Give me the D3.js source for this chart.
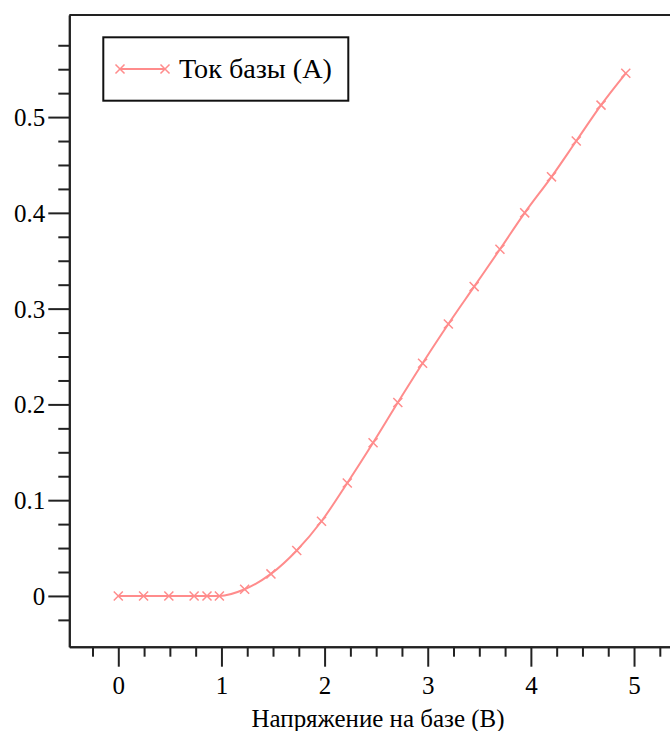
<!DOCTYPE html>
<html>
<head>
<meta charset="utf-8">
<script src="https://cdn.jsdelivr.net/npm/d3@7"></script>
<style>
  html, body { margin: 0; padding: 0; background: #fff; }
  svg { display: block; }
</style>
</head>
<body>
<script>
// ---- data ----
const voltage = [0, 0.245, 0.49, 0.735, 0.86, 0.98, 1.225, 1.48, 1.73, 1.97, 2.22, 2.47, 2.71, 2.95, 3.2, 3.45, 3.7, 3.94, 4.2, 4.44, 4.68, 4.92];
const current = [0, 0, 0, 0, 0, 0, 0.007, 0.023, 0.0475, 0.078, 0.118, 0.160, 0.202, 0.243, 0.284, 0.323, 0.362, 0.400, 0.4376, 0.475, 0.5125, 0.5457];
const xMajorTicks = [0, 1, 2, 3, 4, 5];
const yMajorTicks = [0, 0.1, 0.2, 0.3, 0.4, 0.5];
const yTickLabels = ["0", "0.1", "0.2", "0.3", "0.4", "0.5"];
const seriesName = "Ток базы (А)";
const xTitle = "Напряжение на базе (В)";

const W = 670, H = 731;
const FONT = '"Liberation Serif"';
const svg = d3.select("body").append("svg").attr("width", W).attr("height", H);

const x = d3.scaleLinear().domain([-0.475, 5.5]).range([69.3, 685.6]);
const y = d3.scaleLinear().domain([-0.053, 0.6066]).range([646.7, 15]);

const axisColor = "#222";
const tickFont = 25;

// fit a text's font size to a target width
function fitText(sel, target) {
  const w = sel.node().getComputedTextLength();
  const fs = parseFloat(sel.attr("font-size"));
  sel.attr("font-size", (fs * target / w).toFixed(2));
}

// frame: top line
svg.append("line").attr("x1", x.range()[0]).attr("x2", W + 20)
  .attr("y1", y.range()[1]).attr("y2", y.range()[1])
  .attr("stroke", axisColor).attr("stroke-width", 2);

// x axis
const xMinor = d3.range(-0.25, 5.5, 0.25).filter(v => Math.abs(v - Math.round(v)) > 1e-6);
const xAxis = d3.axisBottom(x).tickValues(xMajorTicks).tickSize(20).tickFormat(d3.format("d")).tickSizeOuter(0);
const xAxisMinor = d3.axisBottom(x).tickValues(xMinor).tickSize(10).tickFormat("").tickSizeOuter(0);
const gx = svg.append("g").attr("transform", `translate(0,${y.range()[0]})`).call(xAxis);
const gxm = svg.append("g").attr("transform", `translate(0,${y.range()[0]})`).call(xAxisMinor);
[gx, gxm].forEach(g => {
  g.attr("font-family", FONT);
  g.select(".domain").attr("stroke", axisColor).attr("stroke-width", 2);
  g.selectAll(".tick line").attr("stroke", axisColor).attr("stroke-width", 2);
});
gx.selectAll(".tick text").style("font-family", FONT).attr("font-size", tickFont)
  .attr("fill", "#000").attr("dy", null).attr("y", 47);

// y axis
const yMinor = d3.range(-0.025, 0.61, 0.025).filter(v => Math.abs(v * 10 - Math.round(v * 10)) > 1e-6);
const yAxis = d3.axisLeft(y).tickValues(yMajorTicks).tickSize(21).tickFormat((d, i) => yTickLabels[i]).tickSizeOuter(0);
const yAxisMinor = d3.axisLeft(y).tickValues(yMinor).tickSize(11).tickFormat("").tickSizeOuter(0);
const gy = svg.append("g").attr("transform", `translate(${x.range()[0]},0)`).call(yAxis);
const gym = svg.append("g").attr("transform", `translate(${x.range()[0]},0)`).call(yAxisMinor);
[gy, gym].forEach(g => {
  g.attr("font-family", FONT);
  g.select(".domain").attr("stroke", axisColor).attr("stroke-width", 2);
  g.selectAll(".tick line").attr("stroke", axisColor).attr("stroke-width", 2);
});
gy.selectAll(".tick text").style("font-family", FONT).attr("font-size", tickFont)
  .attr("fill", "#000").attr("x", -24).attr("dy", "0.34em");

// x title
const title = svg.append("text").attr("x", 378).attr("y", 727).attr("text-anchor", "middle")
  .style("font-family", FONT).attr("font-size", 25).attr("fill", "#000").text(xTitle);
fitText(title, 253);

// series
const data = voltage.map((v, i) => ({ v, c: current[i] }));
const lineColor = "#ff8c8c";
const line = d3.line().x(d => x(d.v)).y(d => y(d.c)).curve(d3.curveMonotoneX);
svg.append("path").datum(data).attr("d", line).attr("fill", "none")
  .attr("stroke", lineColor).attr("stroke-width", 2);

const cross = d3.symbol().type(d3.symbolX).size(55);
svg.selectAll(".pt").data(data).enter().append("path")
  .attr("transform", d => `translate(${x(d.v)},${y(d.c)})`)
  .attr("d", cross).attr("fill", "none").attr("stroke", lineColor).attr("stroke-width", 1.5);

// legend
const lg = svg.append("g");
lg.append("rect").attr("x", 103.3).attr("y", 37.3).attr("width", 245).attr("height", 63.4)
  .attr("fill", "#fff").attr("stroke", "#111").attr("stroke-width", 2);
lg.append("line").attr("x1", 120).attr("x2", 165).attr("y1", 69).attr("y2", 69)
  .attr("stroke", lineColor).attr("stroke-width", 2);
[120, 165].forEach(px => {
  lg.append("path").attr("transform", `translate(${px},69)`).attr("d", cross)
    .attr("fill", "none").attr("stroke", lineColor).attr("stroke-width", 1.5);
});
const lt = lg.append("text").attr("x", 179).attr("y", 78).style("font-family", FONT).attr("font-size", 25)
  .attr("fill", "#000").text(seriesName);
fitText(lt, 153);
</script>
</body>
</html>
